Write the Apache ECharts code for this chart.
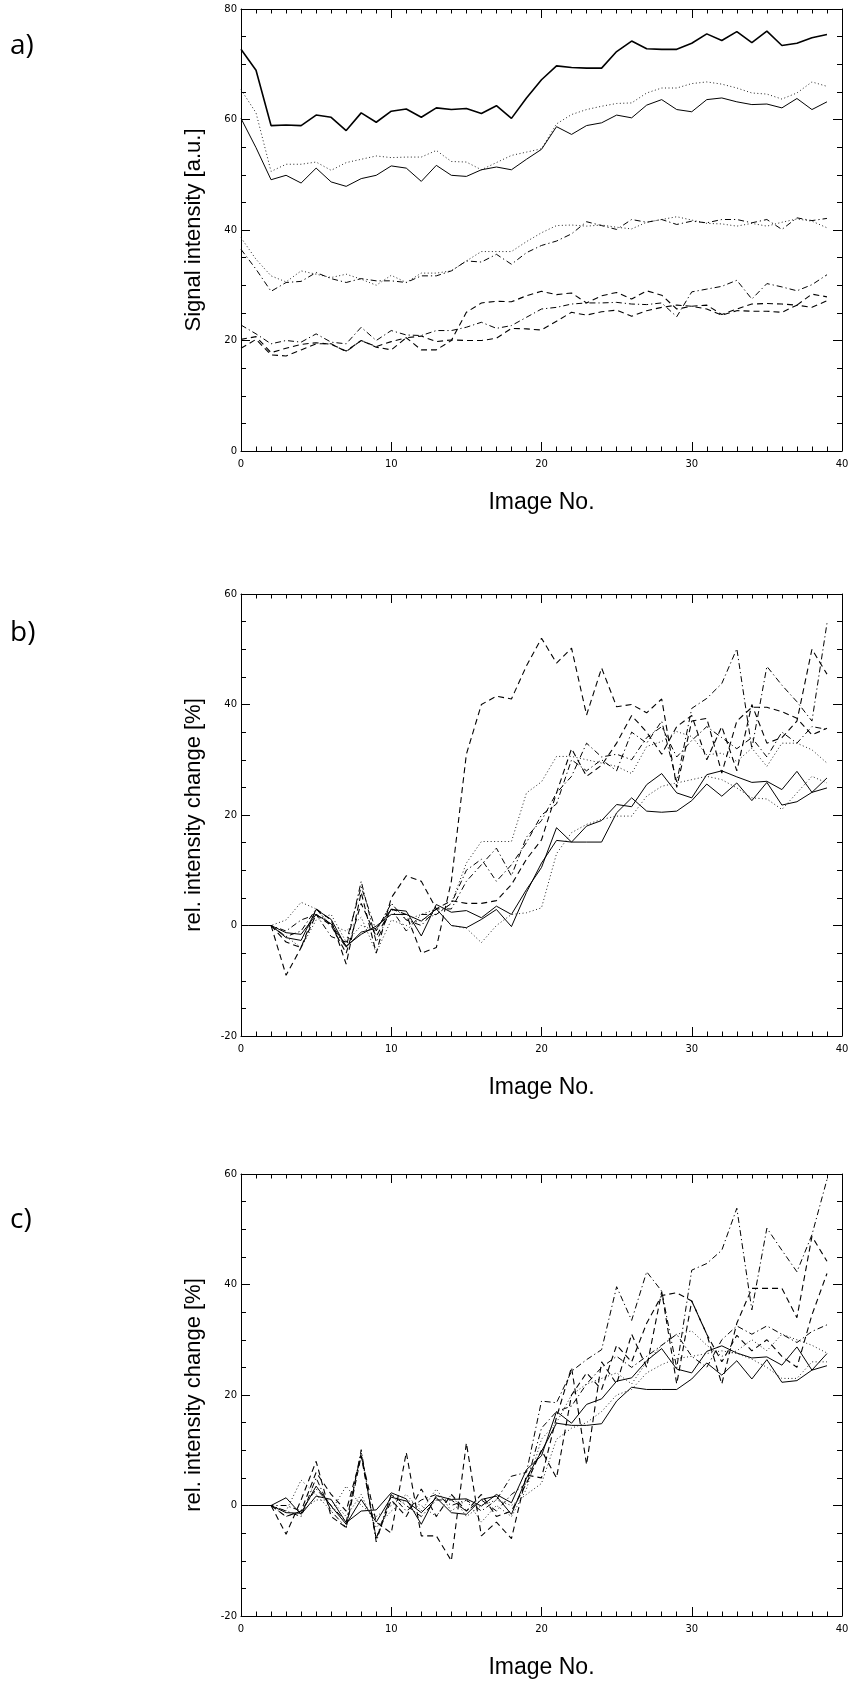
<!DOCTYPE html>
<html>
<head>
<meta charset="utf-8">
<script src="https://cdn.jsdelivr.net/npm/echarts@6/dist/echarts.min.js"></script>
<style>
  html, body { margin: 0; padding: 0; background: #ffffff; }
  #chart { width: 850px; height: 1681px; }
</style>
</head>
<body>
<div id="chart"></div>
<script>
// Image numbers along the x axis
const imageNo = [0,1,2,3,4,5,6,7,8,9,10,11,12,13,14,15,16,17,18,19,20,21,22,23,24,25,26,27,28,29,30,31,32,33,34,35,36,37,38,39];

// Tick labels
const xTicks = [0, 10, 20, 30, 40];
const yTicksA = [0, 20, 40, 60, 80];
const yTicksBC = [-20, 0, 20, 40, 60];

// Panel a) signal intensity [a.u.]
const aSolidTop   = [72.7,68.9,58.9,59.0,58.9,60.8,60.4,58.0,61.2,59.5,61.5,61.9,60.4,62.1,61.8,62.0,61.1,62.5,60.2,63.9,67.2,69.7,69.4,69.3,69.3,72.3,74.2,72.8,72.7,72.7,73.8,75.5,74.3,75.9,73.9,76.0,73.4,73.8,74.8,75.4];
const aDottedTop  = [65.4,61.2,50.6,51.9,51.9,52.3,50.8,52.2,52.8,53.4,53.1,53.2,53.2,54.4,52.4,52.3,50.9,52.2,53.5,54.1,54.7,59.2,60.9,61.8,62.4,62.9,63.0,64.8,65.7,65.7,66.5,66.8,66.4,65.7,64.8,64.6,63.7,64.8,66.8,66.0];
const aSolid      = [60.2,54.9,49.1,49.9,48.5,51.2,48.7,47.9,49.3,49.9,51.6,51.2,48.8,51.7,49.9,49.7,50.9,51.4,50.9,52.8,54.6,58.7,57.3,58.9,59.4,60.8,60.3,62.6,63.6,61.8,61.4,63.6,63.9,63.2,62.7,62.8,62.1,63.8,61.8,63.2];
const aDottedMid  = [38.6,34.7,31.7,30.6,32.6,32.0,31.4,32.0,31.1,30.0,31.8,30.5,32.2,32.2,32.6,34.4,36.1,36.1,36.1,37.9,39.5,40.8,40.9,40.7,40.9,40.5,40.2,41.4,41.9,42.4,41.8,41.2,41.1,40.7,41.2,40.7,41.4,42.0,41.6,40.4];
const aDashDotMid = [36.5,32.9,28.9,30.5,30.7,32.3,31.2,30.5,31.2,30.8,30.8,30.5,31.7,31.7,32.6,34.4,34.2,35.6,33.8,35.9,37.2,38.0,39.3,41.5,40.8,40.1,41.9,41.4,41.9,41.0,41.6,41.3,41.9,41.9,41.3,41.9,40.1,42.2,41.7,42.1];
const aDashDotLow = [22.8,21.2,19.4,20.0,19.7,21.2,19.7,19.4,22.4,20.0,21.8,21.0,20.9,21.8,21.8,22.4,23.3,22.2,22.7,24.2,25.7,26.0,26.6,26.8,26.8,26.9,26.6,26.5,26.8,24.3,28.8,29.3,29.8,30.9,27.5,30.3,29.7,29.0,30.1,31.9];
const aDashedA    = [20.2,20.7,17.8,18.6,19.3,19.6,19.3,18.1,20.0,18.9,19.8,20.5,18.3,18.3,20.0,25.1,26.8,27.1,27.0,28.1,28.9,28.3,28.6,26.8,28.1,28.7,27.5,29.0,28.2,25.7,26.2,26.4,24.7,25.7,26.6,26.7,26.6,26.4,28.4,27.9];
const aDashedB    = [18.6,20.2,17.4,17.2,18.3,19.4,19.4,18.0,20.0,18.8,18.3,20.5,20.8,19.8,20.1,20.0,20.0,20.4,22.2,22.1,21.9,23.5,25.1,24.6,25.2,25.5,24.4,25.4,26.0,26.4,26.2,25.7,24.6,25.4,25.3,25.3,25.1,26.4,26.0,27.2];

// Panel b) relative intensity change [%]
const bSolid1   = [0,0,0,-2.2,-2.7,2.9,1.1,-3.9,-1.2,-0.5,2.9,2.6,-1.9,3.8,2.4,2.7,1.4,3.5,2.0,6.5,10.5,17.7,15.1,15.1,15.1,20.4,23.1,20.7,20.5,20.7,22.6,25.6,23.4,25.8,22.6,25.9,21.8,22.4,24.1,24.9];
const bSolid2   = [0,0,0,-1.3,-1.6,2.0,0.3,-3.7,-1.6,-0.1,2.0,2.0,0.8,3.0,0,-0.4,1.1,2.9,-0.2,6.0,11.3,15.4,15.1,18.0,19.0,21.9,21.5,25.5,27.5,24.0,23.1,27.3,28.0,26.9,25.9,26.1,24.6,27.9,24.1,26.7];
const bDotted1  = [0,0,0,1,4.2,3,0,-1,1.5,-4.9,1,0,1,2,4,11.3,15.2,15.2,15.2,24,26,30.6,30.6,30,29.4,28.8,27.5,32.4,33.3,35.1,34.2,30.9,31.2,29.7,32.1,28.8,33,33,31.8,29.4];
const bDotted2  = [0,0,0,-2,-4,1,2,-3,0,-1,4,1,2,3,0,-0.5,-3.1,0,2,2.3,3.2,13,16.8,18.3,19.2,19.8,19.8,23.4,25.2,25.8,26.4,27,26.4,24.9,23.1,22.9,21,24,27,25.8];
const bDashDot1 = [0,0,0,-2,-1,3,0,-4,8,-3,3,-1,2,2,4,10,12,8,11,15,20,22,30,28,30,28,35,33,37,26,39.3,41.1,43.8,50.1,32,46.9,43.5,40.5,37,54.7];
const bDashDot2 = [0,0,0,-1,1,2,-2,-3,7,-1,4,1,0,3,3,8,11,14,9,16,19,24,27,33,30.5,31,30,34,36,30.5,33.5,36,34,32,34,30.5,35,33,36,35.5];
const bDashed1  = [0,0,0,-9,-4,2,0,-5,4,-2,3,2,-5,-4,8,31,40,41.5,41,47,52,47.5,50.2,38.1,46.6,39.6,40,38.5,41,25,37,37.5,27.6,37,39.5,39.5,38.7,37.5,34.5,35.7];
const bDashed2  = [0,0,0,-3,-4,3,1,-7,6,-5,5,9,8,3,4.5,4,4,4.5,7.4,12,15.5,24,32,27,29,33,38,35,31,36,38,30,36,28,40,33,34,37,50,45.5];

// Panel c) relative intensity change [%]
const cSolid1   = [0,0,0,1.4,-1.6,1.7,1.1,-3.1,-1.0,-0.8,2.3,1.2,-3.4,1.8,1.1,1.2,-0.1,2.0,0.5,6.5,9,17,14.9,18.3,19.3,22.5,23.1,26.2,28.4,24.7,24,27.9,28.9,27.6,26.7,26.9,25.4,28.7,24.5,27.5];
const cSolid2   = [0,0,0,-1.3,-1.4,3.5,-0.1,-3.4,1.1,-3.0,1.5,0.8,-1.3,1.4,-1.3,-1.6,1.1,1.7,-1.6,5,9.8,14.9,14.5,14.5,14.8,18.9,21.4,21,21,21,22.9,25.8,23.6,26.2,22.9,26.4,22.3,22.6,24.5,25.3];
const cDotted1  = [0,0,0,-1,4.6,2,-1,3.5,0,-2,0,2,-1,3,-1,1,-3,0,-2,3,12,15,20,22,23,24,22,26,29,31,31.6,29,27,28,30,28,31,30,29,27.6];
const cDotted2  = [0,0,0,-2,-1,1,1,-2,2,-4,-1,1,0,-2,2,-2,0,1,0,2,4,12,14,15,17,20,21,24,25.5,26.6,27,27.5,28,27.5,26.5,25,23,23,26,26];
const cDashDot1 = [0,0,0,-1,-2,5,-1,-4,10.1,-6.6,2,-1,1,2,0,1,-1,1,5.3,6,18.9,18.6,24.3,26.4,28.2,39.6,33.5,42.3,38.8,24.9,42.6,43.8,46.2,53.8,35.4,50.2,46.2,42.3,49,59];
const cDashDot2 = [0,0,0,0,-1,3,0,-3,9.5,-6,2,0,-2,1,1,-1,1,-1,2,4,14,17,18,22,25,27,25,27,29,31,27,25,30,32.5,31,32.5,31,29.5,31.5,32.7];
const cDashed1  = [0,0,0,-5.2,1,8,-2,-4,9,-3,-5,9.6,-5.5,-5.5,-10,11.3,-5.5,-3,-6,5.5,5,16,25,7.4,26,22,31,25,38.7,22,37,31,22,33,39.3,39.3,39.3,34,48.7,44.2];
const cDashed2  = [0,0,0,-2,-1,6,2,-1,9,-6,1,-2,3,-2,2,-1,2,-2,-1,4,10,5,20,24,21,29,26,33,38,38.5,37,31,26,30.8,28,30,27,25,34.5,42];

// Line styles (IDL-like: solid, dotted, dashed, dash-dot)
const STYLE = {
  solidThick: { color: '#000', width: 1.6, type: 'solid' },
  solid:      { color: '#000', width: 1.0, type: 'solid' },
  dotted:     { color: '#222', width: 1.0, type: [1, 2.5] },
  dashed:     { color: '#000', width: 1.1, type: [6, 4] },
  dashDot:    { color: '#000', width: 1.0, type: [6, 3, 1.2, 3] }
};

const panels = [
  {
    top: 9, yMin: 0, yMax: 80, yTicks: yTicksA, yName: 'Signal intensity [a.u.]',
    lines: [
      [aSolidTop, 'solidThick'], [aDottedTop, 'dotted'], [aSolid, 'solid'],
      [aDottedMid, 'dotted'], [aDashDotMid, 'dashDot'], [aDashDotLow, 'dashDot'],
      [aDashedA, 'dashed'], [aDashedB, 'dashed']
    ]
  },
  {
    top: 594, yMin: -20, yMax: 60, yTicks: yTicksBC, yName: 'rel. intensity change [%]',
    lines: [
      [bSolid1, 'solid'], [bSolid2, 'solid'], [bDotted1, 'dotted'], [bDotted2, 'dotted'],
      [bDashDot1, 'dashDot'], [bDashDot2, 'dashDot'], [bDashed1, 'dashed'], [bDashed2, 'dashed']
    ]
  },
  {
    top: 1174, yMin: -20, yMax: 60, yTicks: yTicksBC, yName: 'rel. intensity change [%]',
    lines: [
      [cSolid1, 'solid'], [cSolid2, 'solid'], [cDotted1, 'dotted'], [cDotted2, 'dotted'],
      [cDashDot1, 'dashDot'], [cDashDot2, 'dashDot'], [cDashed1, 'dashed'], [cDashed2, 'dashed']
    ]
  }
];

const panelLabels = ['a)', 'b)', 'c)'];
const labelTops = [32, 619, 1206];

const tickFont = "'DejaVu Sans', 'Liberation Sans', sans-serif";
const titleFont = "'Liberation Sans', Arial, sans-serif";
const black = '#000';

const grids = [], xAxes = [], yAxes = [], series = [];

panels.forEach((p, g) => {
  grids.push({ left: 241, top: p.top, width: 601, height: 442, containLabel: false, outerBoundsMode: 'none' });

  const xBase = {
    type: 'value', gridIndex: g, min: xTicks[0], max: xTicks[xTicks.length - 1], interval: 10,
    axisLine: { show: true, onZero: false, lineStyle: { color: black, width: 1 } },
    axisTick: { show: true, inside: true, length: 9, lineStyle: { color: black, width: 1 } },
    minorTick: { show: true, splitNumber: 10, length: 4.5, lineStyle: { color: black, width: 1 } },
    splitLine: { show: false }, minorSplitLine: { show: false }
  };
  xAxes.push(Object.assign({}, xBase, {
    position: 'bottom',
    axisLabel: { show: true, color: black, fontSize: 10, fontFamily: tickFont, margin: 8, showMinLabel: true, showMaxLabel: true },
    name: 'Image No.', nameLocation: 'middle', nameGap: 40,
    nameTextStyle: { color: black, fontSize: 23, fontFamily: titleFont }
  }));
  xAxes.push(Object.assign({}, xBase, { position: 'top', axisLabel: { show: false } }));

  const yBase = {
    type: 'value', gridIndex: g, min: p.yMin, max: p.yMax, interval: 20,
    axisLine: { show: true, onZero: false, lineStyle: { color: black, width: 1 } },
    axisTick: { show: true, inside: true, length: 9, lineStyle: { color: black, width: 1 } },
    minorTick: { show: true, splitNumber: 4, length: 5, lineStyle: { color: black, width: 1 } },
    splitLine: { show: false }, minorSplitLine: { show: false }
  };
  yAxes.push(Object.assign({}, yBase, {
    position: 'left',
    axisLabel: { show: true, color: black, fontSize: 10, fontFamily: tickFont, margin: 4, showMinLabel: true, showMaxLabel: true },
    name: p.yName, nameLocation: 'middle', nameGap: 36, nameRotate: 90,
    nameTextStyle: { color: black, fontSize: 22, fontFamily: titleFont }
  }));
  yAxes.push(Object.assign({}, yBase, { position: 'right', axisLabel: { show: false } }));

  p.lines.forEach(([vals, styleKey]) => {
    series.push({
      type: 'line',
      xAxisIndex: g * 2,
      yAxisIndex: g * 2,
      data: imageNo.map((x, i) => [x, vals[i]]),
      symbol: 'none',
      showSymbol: false,
      silent: true,
      lineStyle: Object.assign({}, STYLE[styleKey]),
      z: 2
    });
  });
});

const graphics = panelLabels.map((t, i) => ({
  type: 'text', left: 10, top: labelTops[i],
  style: { text: t, fill: black, font: "28px 'Open Sans', 'Lato', sans-serif" }
}));

const chart = echarts.init(document.getElementById('chart'), null, { renderer: 'canvas' });
chart.setOption({
  backgroundColor: '#ffffff',
  animation: false,
  grid: grids,
  xAxis: xAxes,
  yAxis: yAxes,
  series: series,
  graphic: graphics
});
</script>
</body>
</html>
